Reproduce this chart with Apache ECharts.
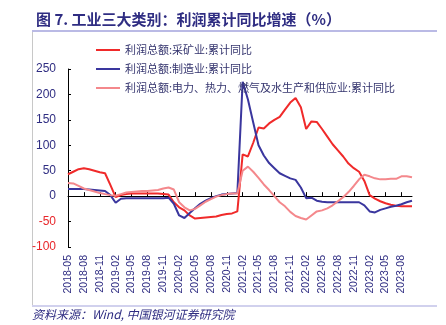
<!DOCTYPE html>
<html>
<head>
<meta charset="utf-8">
<script src="https://cdn.jsdelivr.net/npm/echarts@6/dist/echarts.min.js"></script>
<style>
html,body{margin:0;padding:0;background:#fff;}
#c{width:446px;height:325px;}
</style>
</head>
<body>
<div id="c"></div>
<script>
var categories = [
'2018-05','2018-06','2018-07','2018-08','2018-09','2018-10','2018-11','2018-12',
'2019-01','2019-02','2019-03','2019-04','2019-05','2019-06','2019-07','2019-08','2019-09','2019-10','2019-11','2019-12',
'2020-01','2020-02','2020-03','2020-04','2020-05','2020-06','2020-07','2020-08','2020-09','2020-10','2020-11','2020-12',
'2021-01','2021-02','2021-03','2021-04','2021-05','2021-06','2021-07','2021-08','2021-09','2021-10','2021-11','2021-12',
'2022-01','2022-02','2022-03','2022-04','2022-05','2022-06','2022-07','2022-08','2022-09','2022-10','2022-11','2022-12',
'2023-01','2023-02','2023-03','2023-04','2023-05','2023-06','2023-07','2023-08','2023-09','2023-10'
];
var mining = [
43,48,53,55,53,50,47,45,
22,-2,2,4,5,5,5,5,5,5,4,3,
-12,-22,-28,-38,-44,-43,-42,-41,-40,-37,-35,-34,
-30,82,78,105,135,133,143,150,156,170,184,193,
175,132,147,146,132,117,102,90,78,64,55,48,
30,2,-5,-10,-14,-17,-19,-20,-20,-20
];
var manufacturing = [
14,14,14,14,13,12,11,10,
2,-13,-5,-4,-4,-4,-4,-4,-4,-4,-4,-3,
-15,-38,-43,-33,-24,-15,-9,-4,0,3,4,5,
6,225,190,145,100,80,65,55,45,40,35,32,
17,-4,-3,-9,-11,-12,-12,-12,-12,-12,-12,-12,
-18,-30,-32,-27,-24,-21,-19,-16,-12,-9
];
var utilities = [
26,25,20,15,12,9,6,4,
2,1,4,7,8,9,10,10,11,12,15,17,
13,-12,-22,-28,-25,-18,-11,-6,-1,2,4,5,
5,50,58,48,36,23,12,0,-12,-20,-31,-39,
-43,-46,-38,-30,-28,-24,-18,-10,-2,8,20,33,
42,39,35,33,33,34,34,39,39,37
];
var seriesNames = [
'利润总额:采矿业:累计同比',
'利润总额:制造业:累计同比',
'利润总额:电力、热力、燃气及水生产和供应业:累计同比'
];
var yTicks = {min: -100, max: 250, interval: 50};
var titleText = '图 7. 工业三大类别：利润累计同比增速（%）';
var sourceText = '资料来源：Wind, 中国银河证券研究院';

var navy = '#2f2d82';
var chart = echarts.init(document.getElementById('c'), null, {renderer: 'canvas'});
var baseFont = 'Liberation Sans, Arial, sans-serif';
function mk(name, data, color) {
  return {
    name: name, type: 'line', data: data, xAxisIndex: 0,
    symbol: 'none', smooth: false,
    lineStyle: {color: color, width: 2},
    itemStyle: {color: color},
    emphasis: {disabled: true}
  };
}
chart.setOption({
  animation: false,
  backgroundColor: '#ffffff',
  grid: {left: 68, right: 34, top: 69, bottom: 78, containLabel: false},
  legend: {
    orient: 'vertical', left: 91, top: 38, itemWidth: 24, itemHeight: 2, itemGap: 5,
    icon: 'rect',
    textStyle: {color: '#34346e', fontSize: 11, fontFamily: 'Noto Sans CJK SC', lineHeight: 14, height: 14},
    data: seriesNames
  },
  xAxis: [
    {
      type: 'category', data: categories, boundaryGap: false, position: 'bottom',
      axisLine: {show: false, onZero: false}, axisTick: {show: false},
      axisLabel: {rotate: 90, interval: 2, color: navy, fontSize: 10.5, fontFamily: baseFont, margin: 8},
      splitLine: {show: false}
    },
    {
      type: 'category', data: categories, boundaryGap: false, position: 'bottom',
      axisLine: {show: true, onZero: true, lineStyle: {color: '#000', width: 1}},
      axisTick: {show: true, inside: true, interval: 2, length: 4, lineStyle: {color: '#000'}},
      axisLabel: {show: false}, splitLine: {show: false}
    }
  ],
  yAxis: {
    type: 'value', min: yTicks.min, max: yTicks.max, interval: yTicks.interval,
    axisLine: {show: true, lineStyle: {color: '#000', width: 1}},
    axisTick: {show: true, inside: true, length: 3, lineStyle: {color: '#000'}},
    axisLabel: {
      fontSize: 12, fontFamily: baseFont, margin: 12,
      color: function (v) { return Number(v) < 0 ? '#e8262a' : navy; }
    },
    splitLine: {show: false}
  },
  title: {
    text: titleText, left: 31, top: 7,
    textStyle: {color: navy, fontSize: 15, fontWeight: 'bold', fontFamily: 'Noto Sans CJK SC'}
  },
  graphic: [
    {type: 'line', shape: {x1: 32, y1: 31, x2: 437, y2: 31}, style: {stroke: '#a3a3dc', lineWidth: 1.5}, silent: true},
    {type: 'line', shape: {x1: 32.5, y1: 32, x2: 32.5, y2: 305}, style: {stroke: '#c8c8c8', lineWidth: 1}, silent: true},
    {type: 'line', shape: {x1: 32, y1: 306, x2: 437, y2: 306}, style: {stroke: '#a3a3dc', lineWidth: 1}, silent: true},
    {type: 'text', left: 32, top: 308, style: {text: sourceText, fill: navy, font: 'italic 12px "Noto Sans CJK SC"'}, silent: true}
  ],
  series: [
    mk(seriesNames[0], mining, '#f02a2a'),
    mk(seriesNames[1], manufacturing, '#3a369e'),
    mk(seriesNames[2], utilities, '#f4888c')
  ]
});
</script>
</body>
</html>
